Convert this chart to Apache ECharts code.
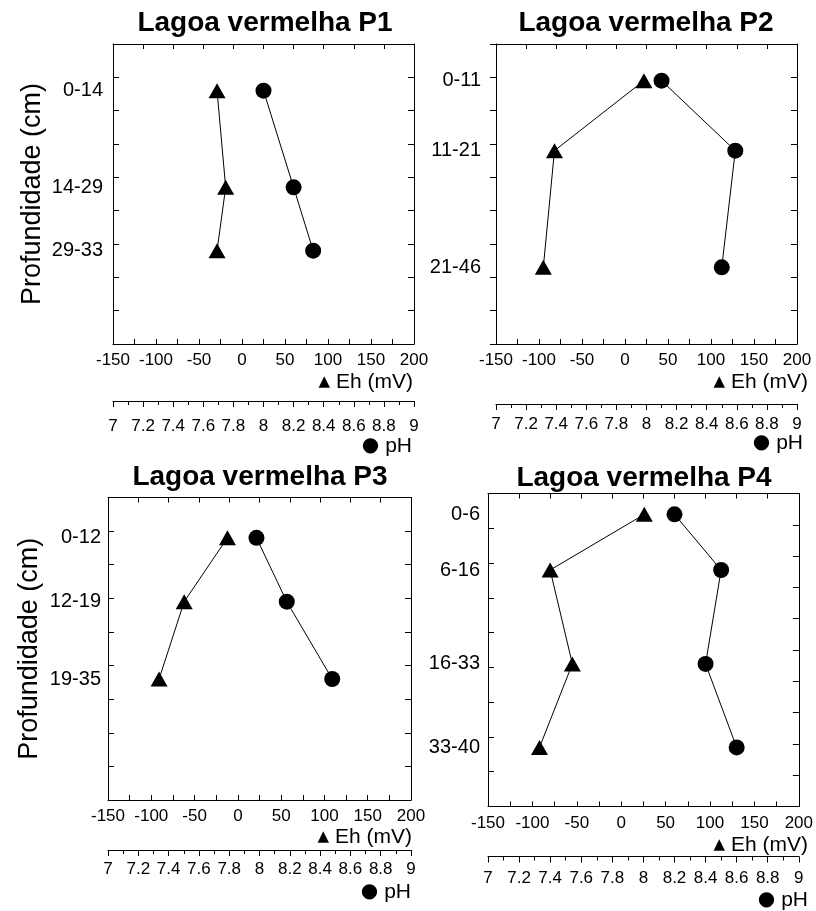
<!DOCTYPE html>
<html>
<head>
<meta charset="utf-8">
<title>Lagoa vermelha - Eh e pH</title>
<script src="https://cdn.jsdelivr.net/npm/echarts@6/dist/echarts.min.js"></script>
<style>
  html, body { margin: 0; padding: 0; background: #fff; }
  #chart { width: 816px; height: 911px; }
</style>
</head>
<body>
<div id="chart"></div>
<script>
// Eh (mV) and pH profiles by depth layer, four sampling points
const panelNames = ['Lagoa vermelha P1', 'Lagoa vermelha P2', 'Lagoa vermelha P3', 'Lagoa vermelha P4'];

// depth = layer midpoint in cm (where the point sits on the 0-45 cm axis)
const p1Layers = ['0-14', '14-29', '29-33'];
const p1Depth = [7, 21.5, 31];
const p1Eh = [-29, -19, -29];
const p1Ph = [8.0, 8.2, 8.33];

const p2Layers = ['0-11', '11-21', '21-46'];
const p2Depth = [5.5, 16, 33.5];
const p2Eh = [22, -82, -95];
const p2Ph = [8.1, 8.59, 8.5];

const p3Layers = ['0-12', '12-19', '19-35'];
const p3Depth = [6, 15.5, 27];
const p3Eh = [-12, -62, -91];
const p3Ph = [7.98, 8.18, 8.48];

const p4Layers = ['0-6', '6-16', '16-33', '33-40'];
const p4Depth = [3, 11, 24.5, 36.5];
const p4Eh = [26, -80, -55, -92];
const p4Ph = [8.2, 8.5, 8.4, 8.6];

const panels = [
    { layers: p1Layers, depth: p1Depth, eh: p1Eh, ph: p1Ph },
    { layers: p2Layers, depth: p2Depth, eh: p2Eh, ph: p2Ph },
    { layers: p3Layers, depth: p3Depth, eh: p3Eh, ph: p3Ph },
    { layers: p4Layers, depth: p4Depth, eh: p4Eh, ph: p4Ph }
];

// page layout of each panel (pixels)
const layout = [
    { left: 113, top: 44, width: 301, height: 300, titleX: 265, titleY: 23, tickOut: false, labelGap: 10,
      phOffset: 57, phMargin: 17, rightSplit: 9, yName: true, nameGap: 67, ehAt: [413, 382], phAt: [412, 446] },
    { left: 496, top: 44, width: 301, height: 300, titleX: 646, titleY: 23, tickOut: true, labelGap: 15,
      phOffset: 60, phMargin: 12, rightSplit: 9, yName: false, nameGap: 0, ehAt: [808, 382], phAt: [803, 443] },
    { left: 108, top: 497.5, width: 303, height: 302.5, titleX: 260, titleY: 477, tickOut: false, labelGap: 7,
      phOffset: 50, phMargin: 11, rightSplit: 9, yName: true, nameGap: 65, ehAt: [412, 837], phAt: [411, 892] },
    { left: 488, top: 493.5, width: 313, height: 313, titleX: 644, titleY: 478, tickOut: false, labelGap: 8,
      phOffset: 50, phMargin: 13, rightSplit: 10, yName: false, nameGap: 0, ehAt: [808, 845], phAt: [808, 900] }
];

const font = '"Liberation Sans", Arial, Helvetica, sans-serif';
const black = '#000';
const line = { color: black, width: 1 };

const chart = echarts.init(document.getElementById('chart'), null, { renderer: 'canvas' });

const grid = [], xAxis = [], yAxis = [], series = [], title = [];

layout.forEach((L, i) => {
    const P = panels[i];

    grid.push({ left: L.left, top: L.top, width: L.width, height: L.height, containLabel: false });

    title.push({
        text: panelNames[i], left: L.titleX, top: L.titleY, padding: 0,
        textAlign: 'center', textVerticalAlign: 'middle',
        textStyle: { fontFamily: font, fontSize: 28, fontWeight: 'bold', color: black }
    });
    title.push({
        text: '{s|▲} Eh (mV)', left: L.ehAt[0], top: L.ehAt[1], padding: 0,
        textAlign: 'right', textVerticalAlign: 'middle',
        textStyle: { fontFamily: font, fontSize: 21, fontWeight: 'normal', color: black,
            rich: { s: { fontFamily: 'DejaVu Sans', fontSize: 15, color: black } } }
    });
    title.push({
        text: '{s|●} pH', left: L.phAt[0], top: L.phAt[1], padding: 0,
        textAlign: 'right', textVerticalAlign: 'middle',
        textStyle: { fontFamily: font, fontSize: 21, fontWeight: 'normal', color: black,
            rich: { s: { fontFamily: 'DejaVu Sans', fontSize: 20, color: black } } }
    });

    // Eh axis (bottom of the box)
    xAxis.push({
        type: 'value', gridIndex: i, position: 'bottom', min: -150, max: 200, interval: 50,
        axisLine: { show: true, onZero: false, lineStyle: line },
        axisTick: { show: true, inside: true, length: 5, lineStyle: line },
        minorTick: { show: true, splitNumber: 2, length: 5, lineStyle: line },
        axisLabel: { show: true, margin: 8, color: black, fontFamily: font, fontSize: 17,
            showMinLabel: true, showMaxLabel: true },
        splitLine: { show: false }, minorSplitLine: { show: false }
    });
    // pH ruler below
    xAxis.push({
        type: 'value', gridIndex: i, position: 'bottom', offset: L.phOffset, min: 7, max: 9, interval: 0.2,
        axisLine: { show: true, onZero: false, lineStyle: line },
        axisTick: { show: true, inside: false, length: 6, lineStyle: line },
        minorTick: { show: true, splitNumber: 2, length: 4, lineStyle: line },
        axisLabel: { show: true, margin: L.phMargin, color: black, fontFamily: font, fontSize: 17,
            showMinLabel: true, showMaxLabel: true },
        splitLine: { show: false }, minorSplitLine: { show: false }
    });
    // top frame ticks
    xAxis.push({
        type: 'value', gridIndex: i, position: 'top', min: 0, max: 10, interval: 1,
        axisLine: { show: true, onZero: false, lineStyle: line },
        axisTick: { show: true, inside: true, length: 5, lineStyle: line },
        axisLabel: { show: false }, splitLine: { show: false }
    });

    // depth axis, labelled with the sampled layers
    yAxis.push({
        type: 'value', gridIndex: i, position: 'left', inverse: true, min: 0, max: 45, interval: 5,
        name: L.yName ? 'Profundidade (cm)' : '', nameLocation: 'middle', nameGap: L.nameGap,
        nameTextStyle: { fontFamily: font, fontSize: 27, color: black },
        axisLine: { show: true, onZero: false, lineStyle: line },
        axisTick: { show: true, inside: !L.tickOut, length: 6, lineStyle: line },
        axisLabel: {
            show: true, customValues: P.depth, margin: L.labelGap,
            color: black, fontFamily: font, fontSize: 20,
            formatter: v => {
                const k = P.depth.indexOf(v);
                return k >= 0 ? P.layers[k] : '';
            }
        },
        splitLine: { show: false }
    });
    // right frame ticks
    yAxis.push({
        type: 'value', gridIndex: i, position: 'right', min: 0, max: L.rightSplit, interval: 1,
        axisLine: { show: true, onZero: false, lineStyle: line },
        axisTick: { show: true, inside: true, length: 6, lineStyle: line },
        axisLabel: { show: false }, splitLine: { show: false }
    });

    series.push({
        name: 'Eh', type: 'line', xAxisIndex: 3 * i, yAxisIndex: 2 * i,
        data: P.eh.map((v, k) => [v, P.depth[k]]),
        symbol: 'triangle', symbolSize: [17, 15], showSymbol: true, showAllSymbol: true,
        lineStyle: { color: black, width: 1 }, itemStyle: { color: black },
        clip: false, silent: true, animation: false
    });
    series.push({
        name: 'pH', type: 'line', xAxisIndex: 3 * i + 1, yAxisIndex: 2 * i,
        data: P.ph.map((v, k) => [v, P.depth[k]]),
        symbol: 'circle', symbolSize: 16, showSymbol: true, showAllSymbol: true,
        lineStyle: { color: black, width: 1 }, itemStyle: { color: black },
        clip: false, silent: true, animation: false
    });
});

chart.setOption({
    backgroundColor: '#fff',
    animation: false,
    title: title,
    grid: grid,
    xAxis: xAxis,
    yAxis: yAxis,
    series: series
});
</script>
</body>
</html>
